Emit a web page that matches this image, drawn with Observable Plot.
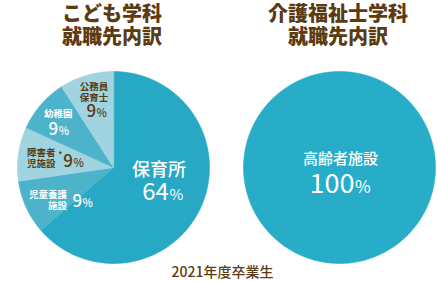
<!DOCTYPE html>
<html><head><meta charset="utf-8">
<script src="https://cdn.jsdelivr.net/npm/d3@7"></script>
<script src="https://cdn.jsdelivr.net/npm/@observablehq/plot@0.6"></script>
<style>body{margin:0;background:#fff}</style>
</head><body><div id="chart"></div>
<script>
// ---- data ----
const titles = ["こども学科\n就職先内訳", "介護福祉士学科\n就職先内訳"];
const kodomoCategories = ["保育所", "児童養護施設", "障害者・児施設", "幼稚園", "公務員保育士"];
const kodomoNames = ["保育所", "児童養護\n施設", "障害者・\n児施設", "幼稚園", "公務員\n保育士"];
const kodomoCounts = [7, 1, 1, 1, 1];
const kodomoPercents = ["64", "9", "9", "9", "9"];
const kaigoCategories = ["高齢者施設"];
const kaigoNames = ["高齢者施設"];
const kaigoCounts = [1];
const kaigoPercents = ["100"];
const footnote = "2021年度卒業生";

// ---- layout & style (not data) ----
const W = 438, H = 281, R = 96;
const FONT = "'Noto Sans CJK JP', 'Noto Sans', sans-serif";
const BROWN = "#5c3a12";
const charts = [
  {id: "k", cx: 113, cy: 167, cats: kodomoCategories, names: kodomoNames, counts: kodomoCounts, pcts: kodomoPercents,
   colors: ["#27a8c4", "#4db3cb", "#9fd4e0", "#4db3cb", "#9fd4e0"],
   textColors: ["#fff", "#fff", BROWN, "#fff", BROWN],
   nameSize: [18, 9.5, 9.5, 9.5, 9.5], numSize: [24, 17, 17, 17, 17], pctSize: [15, 11, 11, 11, 11],
   nameWeight: [500, 700, 700, 700, 700], numWeight: [400, 500, 500, 500, 500],
   // offsets relative to slice centroid (at 0.68R)
   nameOff: [[-14, -25, "middle"], [13, 5.5, "end"], [-22, 0, "start"], [-6, -11, "middle"], [-1, -13, "middle"]],
   numOff: [[-4, -2.5], [28, 7], [24, 3], [-6, 4.5], [1, 7]]},
  {id: "c", cx: 339, cy: 167, cats: kaigoCategories, names: kaigoNames, counts: kaigoCounts, pcts: kaigoPercents,
   colors: ["#28adc8"], textColors: ["#fff"],
   nameSize: [15], numSize: [27], pctSize: [17], nameWeight: [500], numWeight: [400],
   nameOff: [[1, -8.5, "middle"]], numOff: [[15, 16.5]]}
];

const polys = [], names = [], nums = [];
const colorDomain = [], colorRange = [];
for (const c of charts) {
  const arcs = d3.pie().sort(null).value(d => d.count)(c.cats.map((cat, i) => ({cat, count: c.counts[i], i})));
  for (const a of arcs) {
    const i = a.data.i, key = c.id + ":" + a.data.cat;
    colorDomain.push(key); colorRange.push(c.colors[i]);
    const n = Math.max(2, Math.ceil((a.endAngle - a.startAngle) / 0.01));
    const full = arcs.length === 1;
    if (!full) polys.push({key, x: c.cx, y: c.cy});
    for (let k = 0; k <= n; k++) {
      const t = a.startAngle + (a.endAngle - a.startAngle) * k / n;
      polys.push({key, x: c.cx + R * Math.sin(t), y: c.cy - R * Math.cos(t)});
    }
    const mid = (a.startAngle + a.endAngle) / 2;
    const lx = full ? c.cx : c.cx + 0.68 * R * Math.sin(mid);
    const ly = full ? c.cy : c.cy - 0.68 * R * Math.cos(mid);
    const no = c.nameOff[i], uo = c.numOff[i];
    names.push({x: lx + no[0], y: ly + no[1], anchor: no[2], text: c.names[i], size: c.nameSize[i], weight: c.nameWeight[i], fill: c.textColors[i]});
    nums.push({x: lx + uo[0], y: ly + uo[1], num: c.pcts[i], size: c.numSize[i], psize: c.pctSize[i], weight: c.numWeight[i], fill: c.textColors[i]});
  }
}
const titleData = charts.map((c, i) => ({x: c.cx - 1.5, y: 25, text: titles[i]}));

const textMarks = [];
for (const anchor of ["start", "middle", "end"]) {
  for (const w of [500, 700]) {
    textMarks.push(Plot.text(names.filter(d => d.anchor === anchor && d.weight === w), {
      x: "x", y: "y", text: "text", fontSize: d => d.size, fill: d => d.fill, textAnchor: anchor,
      fontWeight: w, lineHeight: 1.12, fontFamily: FONT
    }));
  }
}
for (const w of [400, 500]) {
  const sub = nums.filter(d => d.weight === w);
  textMarks.push(Plot.text(sub, {x: "x", y: "y", text: "num", fontSize: d => d.size, fill: d => d.fill, textAnchor: "end", fontWeight: w, fontFamily: FONT}));
  textMarks.push(Plot.text(sub, {x: d => d.x + 0.5, y: d => d.y + 0.32 * (d.size - d.psize), text: () => "%", fontSize: d => d.psize, fill: d => d.fill, textAnchor: "start", fontWeight: w, fontFamily: FONT}));
}
const plot = Plot.plot({
  width: W, height: H, margin: 0,
  x: {domain: [0, W], range: [0, W], axis: null},
  y: {domain: [0, H], range: [0, H], axis: null},
  color: {domain: colorDomain, range: colorRange},
  style: {background: "#fff", fontFamily: FONT},
  marks: [
    Plot.line(polys, {x: "x", y: "y", z: "key", fill: "key", stroke: "key", strokeWidth: 0.6, curve: "linear-closed"}),
    ...textMarks,
    Plot.text(titleData, {x: "x", y: "y", text: "text", fontSize: 20, fontWeight: 900, fill: BROWN, lineHeight: 1.15, fontFamily: FONT}),
    Plot.text([footnote], {x: W / 2 + 3, y: 272, text: d => d, fontSize: 14, fontWeight: 500, fill: BROWN, fontFamily: FONT})
  ]
});
document.getElementById("chart").appendChild(plot);
</script>
</body></html>
